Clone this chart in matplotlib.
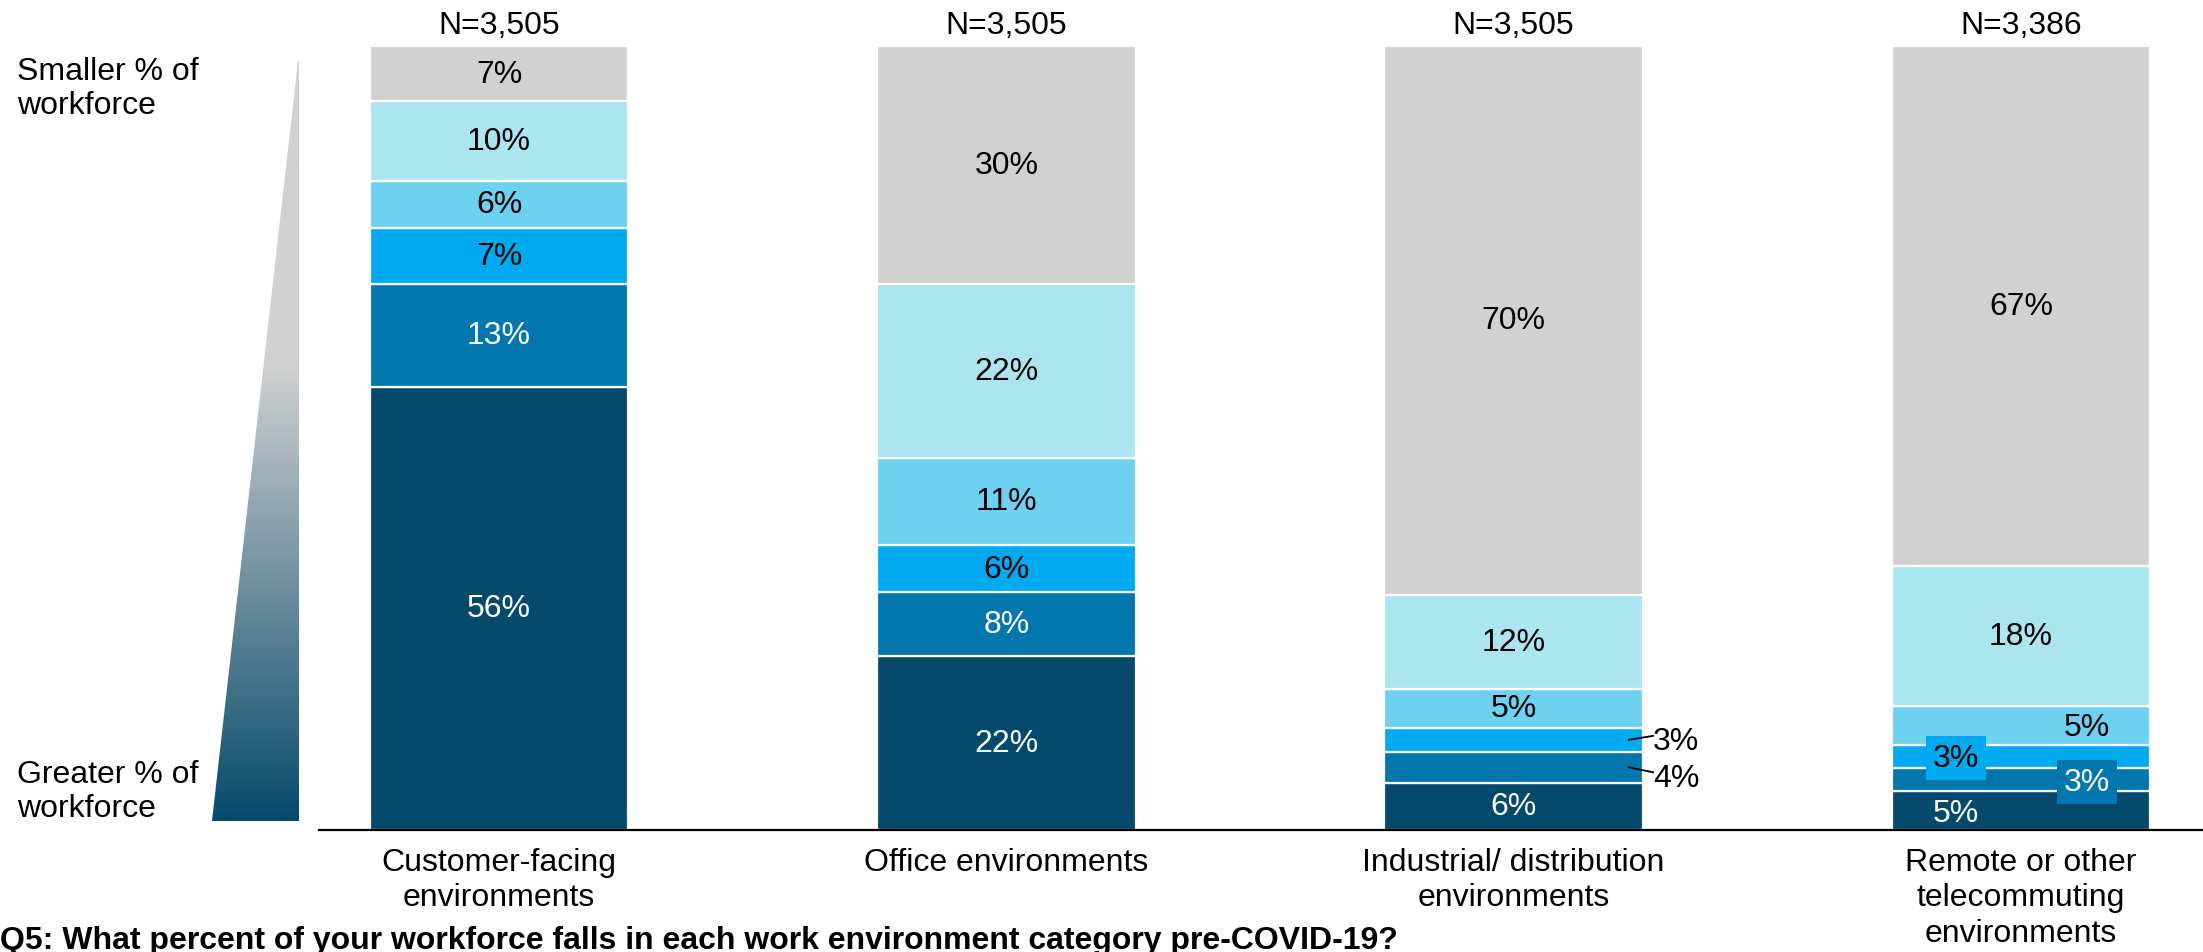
import matplotlib
matplotlib.use("Agg")
import matplotlib.pyplot as plt
import numpy as np
from matplotlib.colors import LinearSegmentedColormap
from matplotlib.patches import Polygon
from matplotlib.transforms import blended_transform_factory

plt.rcParams['font.family'] = ['Liberation Sans', 'DejaVu Sans']

# Data -----------------------------------------------------------------
categories = ["Customer-facing\nenvironments", "Office environments",
              "Industrial/ distribution\nenvironments",
              "Remote or other\ntelecommuting\nenvironments"]
sample_sizes = ["N=3,505", "N=3,505", "N=3,505", "N=3,386"]

# Shares per environment, from "greater % of workforce" (bottom)
# to "smaller % of workforce" (top)
greatest = [56, 22, 6, 5]
great = [13, 8, 4, 3]
moderate = [7, 6, 3, 3]
some = [6, 11, 5, 5]
small = [10, 22, 12, 18]
smallest = [7, 30, 70, 67]

series = [greatest, great, moderate, some, small, smallest]
colors = ["#054A6C", "#0277AE", "#00AAF0", "#6DD1F0", "#ABE6F0", "#D1D1D1"]
text_colors = ["white", "white", "black", "black", "black", "black"]

FS = 23

fig = plt.figure(figsize=(22.03, 9.53), dpi=100)
W, H = 2203, 953

ax_left, ax_right = 319 / W, 1.0
ax_bottom, ax_top = (H - 831) / H, (H - 47) / H
ax = fig.add_axes([ax_left, ax_bottom, ax_right - ax_left, ax_top - ax_bottom])

x = np.arange(len(categories))
bar_w = 0.51
vals = np.array(series, dtype=float)
totals = vals.sum(axis=0)
shares = vals / totals * 100  # each column fills 100 %

bottom = np.zeros(len(categories))
centers = []
for i, row in enumerate(shares):
    ax.bar(x, row, bar_w, bottom=bottom, color=colors[i],
           edgecolor="white", linewidth=1.6, zorder=2)
    centers.append(bottom + row / 2)
    bottom = bottom + row
centers = np.array(centers)

ax.set_xlim(-0.355, 3.359)
ax.set_ylim(0, 100)
for s in ["top", "right", "left"]:
    ax.spines[s].set_visible(False)
ax.spines["bottom"].set_linewidth(1.6)
ax.spines["bottom"].set_zorder(3)
ax.set_xticks([])
ax.set_yticks([])

px = 100 / 784  # data units per pixel vertically

# Segment labels
for i in range(len(series)):
    for j in range(len(categories)):
        label = f"{series[i][j]}%"
        xi, yi = x[j], centers[i, j]
        tc = text_colors[i]
        if j == 2 and i in (1, 2):
            # small industrial segments labelled outside with leader lines
            edge = x[j] + bar_w / 2
            if i == 2:
                y_end, y_txt = yi + 4 * px, yi - 1 * px
            else:
                y_end, y_txt = yi - 5 * px, yi - 11 * px
            ax.plot([edge - 0.028, edge + 0.02], [yi, y_end],
                    color="black", lw=1.3, zorder=4, clip_on=False)
            ax.text(edge + 0.02, y_txt, label, ha="left", va="center",
                    fontsize=FS, color="black", zorder=5)
            continue
        if j == 3 and i in (0, 1, 2, 3):
            off = -0.128 if i in (0, 2) else 0.13
            bbox = None
            if i in (1, 2):
                bbox = dict(boxstyle="square,pad=0.22", fc=colors[i], ec="none")
            ax.text(xi + off, yi - 2 * px, label, ha="center", va="center",
                    fontsize=FS, color=tc, bbox=bbox, zorder=5)
            continue
        ax.text(xi, yi, label, ha="center", va="center",
                fontsize=FS, color=tc, zorder=5)

# Sample sizes above bars
trans = blended_transform_factory(ax.transData, ax.transAxes)
for j, n in enumerate(sample_sizes):
    ax.text(x[j], 1 + 21 / 784, n, transform=trans, ha="center",
            va="center", fontsize=FS)

# Category labels below the axis
for j, c in enumerate(categories):
    ax.text(x[j], -17 / 784, c, transform=trans, ha="center", va="top",
            fontsize=FS, linespacing=1.23)

# Gradient wedge on the left
wedge_ax = fig.add_axes([0, 0, 1, 1], zorder=-1)
wedge_ax.set_xlim(0, W)
wedge_ax.set_ylim(H, 0)
wedge_ax.axis("off")
cmap = LinearSegmentedColormap.from_list(
    "wedge", [(0, "#D1D1D1"), (0.40, "#D1D1D1"), (1.0, "#064A6B")])
grad = np.linspace(0, 1, 256).reshape(-1, 1)
top_y, bot_y, right_x, left_x = 62, 822, 299, 212
im = wedge_ax.imshow(grad, cmap=cmap, aspect="auto",
                     extent=[left_x, right_x, bot_y, top_y])
poly = Polygon([[right_x - 1, top_y], [right_x, top_y], [right_x, bot_y],
                [left_x, bot_y]], closed=True, transform=wedge_ax.transData,
               fc="none", ec="none")
wedge_ax.add_patch(poly)
im.set_clip_path(poly)

fig.text(17 / W, 1 - 89 / H, "Smaller % of\nworkforce", ha="left",
         va="center", fontsize=FS, linespacing=1.2)
fig.text(17 / W, 1 - 792 / H, "Greater % of\nworkforce", ha="left",
         va="center", fontsize=FS, linespacing=1.2)

fig.text(0, 1 - 941 / H,
         "Q5: What percent of your workforce falls in each work environment category pre-COVID-19?",
         ha="left", va="center", fontsize=FS, fontweight="bold")

fig.savefig("out.png", dpi=100, facecolor="white")
